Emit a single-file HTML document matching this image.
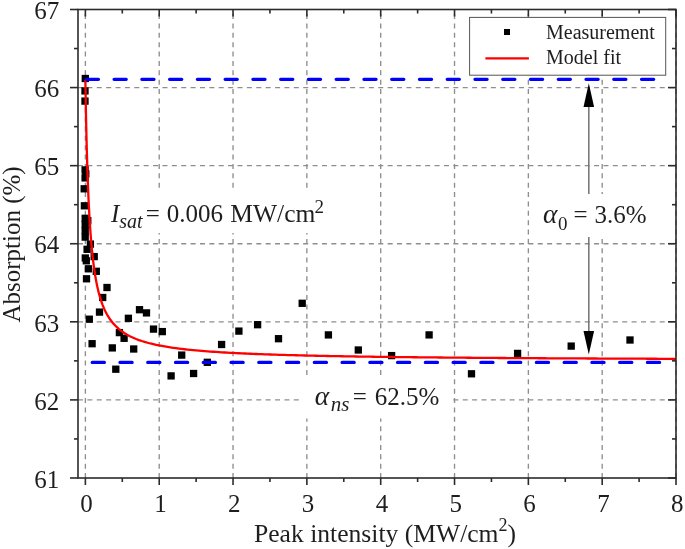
<!DOCTYPE html>
<html><head><meta charset="utf-8"><style>
html,body{margin:0;padding:0;background:#fff;}
svg{display:block;filter:blur(0.4px);font-family:"Liberation Serif",serif;}
</style></head><body>
<svg width="685" height="549" viewBox="0 0 685 549">
<rect width="685" height="549" fill="#fff"/>
<g id="grid" stroke="#8e8e8e" stroke-width="1.35" stroke-dasharray="5 4.383" fill="none"><line x1="85.38" y1="478" x2="85.38" y2="9.5" stroke-dasharray="5 4.365"/><line x1="159.21" y1="478" x2="159.21" y2="9.5" stroke-dasharray="5 4.365"/><line x1="233.04" y1="478" x2="233.04" y2="9.5" stroke-dasharray="5 4.365"/><line x1="306.87" y1="478" x2="306.87" y2="9.5" stroke-dasharray="5 4.365"/><line x1="380.70" y1="478" x2="380.70" y2="9.5" stroke-dasharray="5 4.365"/><line x1="454.53" y1="478" x2="454.53" y2="9.5" stroke-dasharray="5 4.365"/><line x1="528.36" y1="478" x2="528.36" y2="9.5" stroke-dasharray="5 4.365"/><line x1="602.19" y1="478" x2="602.19" y2="9.5" stroke-dasharray="5 4.365"/><line x1="676.02" y1="478" x2="676.02" y2="9.5" stroke-dasharray="5 4.365"/><line x1="78" y1="399.90" x2="676" y2="399.90"/><line x1="78" y1="321.82" x2="676" y2="321.82"/><line x1="78" y1="243.74" x2="676" y2="243.74"/><line x1="78" y1="165.66" x2="676" y2="165.66"/><line x1="78" y1="87.58" x2="676" y2="87.58"/></g>

<g id="marks" fill="#000"><rect x="81.65" y="74.85" width="7.3" height="7.3"/><rect x="81.35" y="87.25" width="7.3" height="7.3"/><rect x="81.35" y="97.45" width="7.3" height="7.3"/><rect x="81.45" y="166.25" width="7.3" height="7.3"/><rect x="82.15" y="170.25" width="7.3" height="7.3"/><rect x="81.45" y="174.25" width="7.3" height="7.3"/><rect x="80.55" y="185.15" width="7.3" height="7.3"/><rect x="80.75" y="202.15" width="7.3" height="7.3"/><rect x="81.55" y="214.65" width="7.3" height="7.3"/><rect x="81.55" y="220.85" width="7.3" height="7.3"/><rect x="81.55" y="227.15" width="7.3" height="7.3"/><rect x="81.55" y="233.45" width="7.3" height="7.3"/><rect x="84.15" y="217.05" width="7.3" height="7.3"/><rect x="86.75" y="240.45" width="7.3" height="7.3"/><rect x="83.45" y="245.65" width="7.3" height="7.3"/><rect x="81.65" y="254.35" width="7.3" height="7.3"/><rect x="82.65" y="257.15" width="7.3" height="7.3"/><rect x="90.55" y="252.95" width="7.3" height="7.3"/><rect x="84.75" y="265.15" width="7.3" height="7.3"/><rect x="92.65" y="267.65" width="7.3" height="7.3"/><rect x="82.85" y="275.15" width="7.3" height="7.3"/><rect x="103.35" y="283.85" width="7.3" height="7.3"/><rect x="99.05" y="293.85" width="7.3" height="7.3"/><rect x="95.85" y="308.45" width="7.3" height="7.3"/><rect x="85.65" y="315.55" width="7.3" height="7.3"/><rect x="124.75" y="314.65" width="7.3" height="7.3"/><rect x="135.85" y="306.05" width="7.3" height="7.3"/><rect x="142.85" y="309.25" width="7.3" height="7.3"/><rect x="149.85" y="325.45" width="7.3" height="7.3"/><rect x="158.65" y="327.95" width="7.3" height="7.3"/><rect x="115.75" y="328.95" width="7.3" height="7.3"/><rect x="120.45" y="334.65" width="7.3" height="7.3"/><rect x="108.65" y="344.25" width="7.3" height="7.3"/><rect x="130.05" y="345.35" width="7.3" height="7.3"/><rect x="112.15" y="365.55" width="7.3" height="7.3"/><rect x="88.45" y="340.05" width="7.3" height="7.3"/><rect x="178.05" y="351.45" width="7.3" height="7.3"/><rect x="203.65" y="358.65" width="7.3" height="7.3"/><rect x="167.45" y="372.25" width="7.3" height="7.3"/><rect x="189.95" y="369.85" width="7.3" height="7.3"/><rect x="217.95" y="340.85" width="7.3" height="7.3"/><rect x="235.25" y="327.45" width="7.3" height="7.3"/><rect x="253.95" y="321.05" width="7.3" height="7.3"/><rect x="274.85" y="335.05" width="7.3" height="7.3"/><rect x="298.55" y="299.65" width="7.3" height="7.3"/><rect x="324.75" y="331.25" width="7.3" height="7.3"/><rect x="354.65" y="346.35" width="7.3" height="7.3"/><rect x="387.95" y="351.95" width="7.3" height="7.3"/><rect x="425.45" y="331.25" width="7.3" height="7.3"/><rect x="467.85" y="370.15" width="7.3" height="7.3"/><rect x="513.95" y="349.75" width="7.3" height="7.3"/><rect x="567.55" y="342.45" width="7.3" height="7.3"/><rect x="626.35" y="336.35" width="7.3" height="7.3"/></g>
<path id="curve" d="M85.38,79.77 L85.53,89.20 L85.68,98.02 L85.83,106.28 L85.97,114.04 L86.12,121.34 L86.27,128.23 L86.42,134.72 L86.57,140.87 L86.72,146.69 L86.87,152.20 L87.02,157.45 L87.16,162.43 L87.31,167.18 L87.46,171.70 L87.61,176.02 L87.76,180.15 L87.91,184.09 L88.06,187.87 L88.20,191.49 L88.35,194.96 L88.50,198.29 L88.65,201.49 L88.80,204.56 L88.95,207.52 L89.10,210.37 L89.24,213.12 L89.39,215.77 L89.54,218.32 L89.69,220.79 L89.84,223.17 L89.99,225.47 L90.14,227.70 L90.29,229.85 L90.43,231.94 L90.58,233.96 L90.73,235.92 L90.88,237.81 L91.03,239.66 L91.18,241.44 L91.33,243.18 L91.47,244.87 L91.62,246.50 L91.77,248.10 L91.92,249.64 L92.07,251.15 L92.22,252.62 L92.37,254.05 L92.52,255.44 L92.66,256.79 L92.81,258.11 L92.96,259.40 L93.11,260.66 L93.26,261.88 L93.41,263.08 L93.56,264.24 L93.70,265.38 L93.85,266.49 L94.00,267.58 L94.15,268.64 L94.30,269.68 L94.45,270.70 L94.60,271.69 L94.75,272.66 L94.89,273.61 L95.04,274.54 L95.19,275.45 L95.34,276.34 L95.49,277.22 L95.64,278.07 L95.79,278.91 L95.93,279.73 L96.08,280.54 L96.23,281.32 L96.38,282.10 L96.53,282.86 L96.68,283.60 L96.83,284.33 L96.97,285.05 L97.12,285.75 L97.27,286.44 L97.42,287.12 L97.57,287.78 L97.72,288.44 L97.87,289.08 L98.02,289.71 L98.16,290.33 L98.31,290.94 L98.46,291.54 L98.61,292.13 L98.76,292.71 L98.91,293.27 L99.06,293.83 L99.20,294.38 L99.35,294.93 L99.50,295.46 L99.65,295.98 L99.80,296.50 L99.95,297.01 L100.10,297.50 L100.25,298.00 L100.39,298.48 L100.54,298.96 L100.69,299.43 L100.84,299.89 L100.99,300.35 L101.14,300.79 L101.29,301.24 L101.43,301.67 L101.58,302.10 L101.73,302.53 L101.88,302.94 L102.03,303.35 L102.18,303.76 L102.33,304.16 L102.47,304.55 L102.62,304.94 L102.77,305.33 L102.92,305.70 L103.07,306.08 L103.22,306.45 L103.37,306.81 L103.52,307.17 L103.66,307.52 L103.81,307.87 L103.96,308.21 L104.11,308.55 L104.26,308.89 L104.41,309.22 L104.56,309.55 L104.70,309.87 L104.85,310.19 L105.00,310.51 L105.15,310.82 L105.30,311.12 L105.45,311.43 L105.60,311.73 L105.75,312.02 L105.89,312.32 L106.04,312.61 L106.19,312.89 L106.34,313.18 L106.49,313.45 L106.64,313.73 L106.79,314.00 L106.93,314.27 L107.08,314.54 L107.23,314.80 L107.38,315.06 L107.53,315.32 L110.39,319.76 L113.24,323.41 L116.10,326.47 L118.96,329.07 L121.81,331.30 L124.67,333.24 L127.53,334.93 L130.38,336.44 L133.24,337.78 L136.10,338.97 L138.95,340.06 L141.81,341.03 L144.67,341.93 L147.52,342.74 L150.38,343.49 L153.24,344.17 L156.09,344.81 L158.95,345.40 L161.81,345.95 L164.66,346.46 L167.52,346.93 L170.38,347.38 L173.23,347.80 L176.09,348.19 L178.95,348.56 L181.80,348.91 L184.66,349.24 L187.52,349.55 L190.37,349.85 L193.23,350.13 L196.09,350.39 L198.94,350.65 L201.80,350.89 L204.66,351.12 L207.51,351.34 L210.37,351.55 L213.23,351.75 L216.09,351.94 L218.94,352.13 L221.80,352.31 L224.66,352.48 L227.51,352.64 L230.37,352.80 L233.23,352.95 L236.08,353.09 L238.94,353.23 L241.80,353.37 L244.65,353.50 L247.51,353.63 L250.37,353.75 L253.22,353.87 L256.08,353.98 L258.94,354.09 L261.79,354.20 L264.65,354.30 L267.51,354.40 L270.36,354.50 L273.22,354.59 L276.08,354.69 L278.93,354.78 L281.79,354.86 L284.65,354.95 L287.50,355.03 L290.36,355.11 L293.22,355.19 L296.07,355.26 L298.93,355.33 L301.79,355.41 L304.64,355.48 L307.50,355.54 L310.36,355.61 L313.21,355.67 L316.07,355.74 L318.93,355.80 L321.78,355.86 L324.64,355.92 L327.50,355.98 L330.35,356.03 L333.21,356.09 L336.07,356.14 L338.92,356.19 L341.78,356.24 L344.64,356.29 L347.50,356.34 L350.35,356.39 L353.21,356.44 L356.07,356.48 L358.92,356.53 L361.78,356.57 L364.64,356.61 L367.49,356.66 L370.35,356.70 L373.21,356.74 L376.06,356.78 L378.92,356.82 L381.78,356.86 L384.63,356.89 L387.49,356.93 L390.35,356.97 L393.20,357.00 L396.06,357.04 L398.92,357.07 L401.77,357.11 L404.63,357.14 L407.49,357.17 L410.34,357.20 L413.20,357.24 L416.06,357.27 L418.91,357.30 L421.77,357.33 L424.63,357.36 L427.48,357.39 L430.34,357.41 L433.20,357.44 L436.05,357.47 L438.91,357.50 L441.77,357.52 L444.62,357.55 L447.48,357.57 L450.34,357.60 L453.19,357.63 L456.05,357.65 L458.91,357.67 L461.76,357.70 L464.62,357.72 L467.48,357.74 L470.33,357.77 L473.19,357.79 L476.05,357.81 L478.91,357.83 L481.76,357.86 L484.62,357.88 L487.48,357.90 L490.33,357.92 L493.19,357.94 L496.05,357.96 L498.90,357.98 L501.76,358.00 L504.62,358.02 L507.47,358.04 L510.33,358.06 L513.19,358.07 L516.04,358.09 L518.90,358.11 L521.76,358.13 L524.61,358.15 L527.47,358.16 L530.33,358.18 L533.18,358.20 L536.04,358.21 L538.90,358.23 L541.75,358.25 L544.61,358.26 L547.47,358.28 L550.32,358.29 L553.18,358.31 L556.04,358.33 L558.89,358.34 L561.75,358.36 L564.61,358.37 L567.46,358.39 L570.32,358.40 L573.18,358.41 L576.03,358.43 L578.89,358.44 L581.75,358.46 L584.60,358.47 L587.46,358.48 L590.32,358.50 L593.17,358.51 L596.03,358.52 L598.89,358.54 L601.74,358.55 L604.60,358.56 L607.46,358.57 L610.32,358.59 L613.17,358.60 L616.03,358.61 L618.89,358.62 L621.74,358.63 L624.60,358.65 L627.46,358.66 L630.31,358.67 L633.17,358.68 L636.03,358.69 L638.88,358.70 L641.74,358.71 L644.60,358.72 L647.45,358.73 L650.31,358.75 L653.17,358.76 L656.02,358.77 L658.88,358.78 L661.74,358.79 L664.59,358.80 L667.45,358.81 L670.31,358.82 L673.16,358.83 L676.02,358.84" stroke="#ff0000" stroke-width="2.3" fill="none"/>
<g id="blue" stroke="#0000ff" stroke-width="3.2" stroke-dasharray="12.2 15.56" stroke-linecap="round" fill="none">
<line x1="86.3" y1="79.3" x2="655" y2="79.3"/>
<line x1="92.2" y1="362.4" x2="661" y2="362.4"/>
</g>
<g id="boxes" fill="#fff">
<rect x="106" y="190" width="222" height="43"/>
<rect x="539" y="194" width="113" height="43"/>
<rect x="300" y="377.5" width="152" height="41"/>
</g>
<g id="arrows">
<g stroke="#7a7a7a" stroke-width="1.6"><line x1="588.8" y1="106" x2="588.8" y2="194"/><line x1="588.8" y1="237" x2="588.8" y2="332"/></g>
<g fill="#000"><path d="M588.8,83.2 L583.5,107 L594.1,107 Z"/><path d="M588.8,354.4 L583.5,331 L594.1,331 Z"/></g>
</g>
<g id="frame" stroke="#2b2b2b" stroke-width="1.6" fill="none">
<rect x="78" y="9.5" width="598" height="468.5"/>
<line x1="85.38" y1="478" x2="85.38" y2="485"/><line x1="85.38" y1="9.5" x2="85.38" y2="16.5"/><line x1="122.29" y1="478" x2="122.29" y2="482"/><line x1="122.29" y1="9.5" x2="122.29" y2="13.5"/><line x1="159.21" y1="478" x2="159.21" y2="485"/><line x1="159.21" y1="9.5" x2="159.21" y2="16.5"/><line x1="196.12" y1="478" x2="196.12" y2="482"/><line x1="196.12" y1="9.5" x2="196.12" y2="13.5"/><line x1="233.04" y1="478" x2="233.04" y2="485"/><line x1="233.04" y1="9.5" x2="233.04" y2="16.5"/><line x1="269.95" y1="478" x2="269.95" y2="482"/><line x1="269.95" y1="9.5" x2="269.95" y2="13.5"/><line x1="306.87" y1="478" x2="306.87" y2="485"/><line x1="306.87" y1="9.5" x2="306.87" y2="16.5"/><line x1="343.78" y1="478" x2="343.78" y2="482"/><line x1="343.78" y1="9.5" x2="343.78" y2="13.5"/><line x1="380.70" y1="478" x2="380.70" y2="485"/><line x1="380.70" y1="9.5" x2="380.70" y2="16.5"/><line x1="417.62" y1="478" x2="417.62" y2="482"/><line x1="417.62" y1="9.5" x2="417.62" y2="13.5"/><line x1="454.53" y1="478" x2="454.53" y2="485"/><line x1="454.53" y1="9.5" x2="454.53" y2="16.5"/><line x1="491.44" y1="478" x2="491.44" y2="482"/><line x1="491.44" y1="9.5" x2="491.44" y2="13.5"/><line x1="528.36" y1="478" x2="528.36" y2="485"/><line x1="528.36" y1="9.5" x2="528.36" y2="16.5"/><line x1="565.27" y1="478" x2="565.27" y2="482"/><line x1="565.27" y1="9.5" x2="565.27" y2="13.5"/><line x1="602.19" y1="478" x2="602.19" y2="485"/><line x1="602.19" y1="9.5" x2="602.19" y2="16.5"/><line x1="639.11" y1="478" x2="639.11" y2="482"/><line x1="639.11" y1="9.5" x2="639.11" y2="13.5"/><line x1="676.02" y1="478" x2="676.02" y2="485"/><line x1="676.02" y1="9.5" x2="676.02" y2="16.5"/><line x1="70" y1="477.98" x2="78" y2="477.98"/><line x1="668" y1="477.98" x2="676" y2="477.98"/><line x1="74" y1="438.94" x2="78" y2="438.94"/><line x1="672" y1="438.94" x2="676" y2="438.94"/><line x1="70" y1="399.90" x2="78" y2="399.90"/><line x1="668" y1="399.90" x2="676" y2="399.90"/><line x1="74" y1="360.86" x2="78" y2="360.86"/><line x1="672" y1="360.86" x2="676" y2="360.86"/><line x1="70" y1="321.82" x2="78" y2="321.82"/><line x1="668" y1="321.82" x2="676" y2="321.82"/><line x1="74" y1="282.78" x2="78" y2="282.78"/><line x1="672" y1="282.78" x2="676" y2="282.78"/><line x1="70" y1="243.74" x2="78" y2="243.74"/><line x1="668" y1="243.74" x2="676" y2="243.74"/><line x1="74" y1="204.70" x2="78" y2="204.70"/><line x1="672" y1="204.70" x2="676" y2="204.70"/><line x1="70" y1="165.66" x2="78" y2="165.66"/><line x1="668" y1="165.66" x2="676" y2="165.66"/><line x1="74" y1="126.62" x2="78" y2="126.62"/><line x1="672" y1="126.62" x2="676" y2="126.62"/><line x1="70" y1="87.58" x2="78" y2="87.58"/><line x1="668" y1="87.58" x2="676" y2="87.58"/><line x1="74" y1="48.54" x2="78" y2="48.54"/><line x1="672" y1="48.54" x2="676" y2="48.54"/><line x1="70" y1="9.50" x2="78" y2="9.50"/><line x1="668" y1="9.50" x2="676" y2="9.50"/>
</g>
<g id="legend">
<rect x="469.6" y="17.4" width="196.1" height="57.8" fill="#fff" stroke="#555" stroke-width="1"/>
<rect x="504" y="29" width="6" height="6" fill="#000"/>
<line x1="485.4" y1="58.3" x2="528.9" y2="58.3" stroke="#ff0000" stroke-width="2.3"/>
</g>
<g font-size="20" fill="#1e1e1e"><text id="leg1" x="546" y="38.5">Measurement</text><text id="leg2" x="546" y="64">Model fit</text></g>
<g font-size="25" fill="#1e1e1e" text-anchor="middle"><text id="xt0" x="86.58" y="511.8">0</text><text id="xt1" x="160.41" y="511.8">1</text><text id="xt2" x="234.24" y="511.8">2</text><text id="xt3" x="308.07" y="511.8">3</text><text id="xt4" x="381.90" y="511.8">4</text><text id="xt5" x="455.73" y="511.8">5</text><text id="xt6" x="529.56" y="511.8">6</text><text id="xt7" x="603.39" y="511.8">7</text><text id="xt8" x="677.22" y="511.8">8</text></g>
<g font-size="25" fill="#1e1e1e" text-anchor="end"><text id="yt61" x="59.2" y="487.68">61</text><text id="yt62" x="59.2" y="409.60">62</text><text id="yt63" x="59.2" y="331.52">63</text><text id="yt64" x="59.2" y="253.44">64</text><text id="yt65" x="59.2" y="175.36">65</text><text id="yt66" x="59.2" y="97.28">66</text><text id="yt67" x="59.2" y="19.20">67</text></g>
<text id="xlabel" x="254" y="542" font-size="25.6" fill="#1e1e1e">Peak intensity (MW/cm<tspan font-size="18" dy="-11">2</tspan><tspan dy="11">)</tspan></text>
<text id="ylabel" transform="translate(19.7,322.6) rotate(-90)" font-size="25" fill="#1e1e1e">Absorption (%)</text>
<g fill="#1e1e1e"><text id="i_I" x="110.90" y="221.60" font-size="25" font-style="italic">I</text><text id="i_sat" x="119.26" y="228.00" font-size="20" font-style="italic">sat</text><text id="i_eq" x="145.85" y="221.80" font-size="25">=</text><text id="i_num" x="166.65" y="221.50" font-size="25">0.006</text><text id="i_mw" x="230.37" y="221.50" font-size="25.5">MW/cm</text><text id="i_2" x="314.57" y="212.70" font-size="19">2</text><text id="a_al" x="542.98" y="222.70" font-size="27.5" font-style="italic">α</text><text id="a_0" x="558.08" y="229.60" font-size="19">0</text><text id="a_eq" x="573.55" y="222.70" font-size="25">=</text><text id="a_num" x="594.50" y="222.70" font-size="25">3.6%</text><text id="n_al" x="314.78" y="405.20" font-size="27.5" font-style="italic">α</text><text id="n_ns" x="330.75" y="411.40" font-size="21" font-style="italic">ns</text><text id="n_eq" x="352.65" y="405.40" font-size="25">=</text><text id="n_num" x="374.63" y="405.40" font-size="25">62.5%</text></g>
</svg>
</body></html>
